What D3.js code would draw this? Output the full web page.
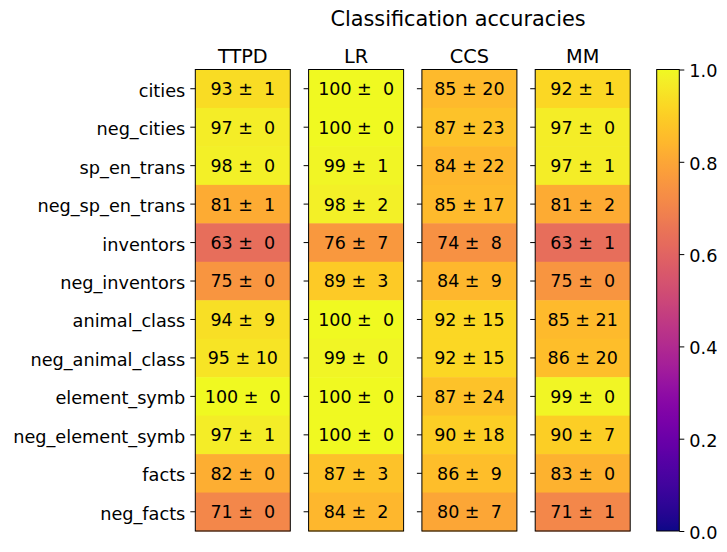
<!DOCTYPE html>
<html>
<head>
<meta charset="utf-8">
<script src="https://cdn.jsdelivr.net/npm/d3@7"></script>
<style>
  body { margin: 0; background: #fff; }
  text { font-family: "DejaVu Sans", sans-serif; }
</style>
</head>
<body>
<div id="chart"></div>
<script>
// Data (accuracy in %, mean and std).
const datasets = ["cities", "neg_cities", "sp_en_trans", "neg_sp_en_trans", "inventors",
    "neg_inventors", "animal_class", "neg_animal_class", "element_symb",
    "neg_element_symb", "facts", "neg_facts"];
const methods = ["TTPD", "LR", "CCS", "MM"];

const ttpdMean = [93, 97, 98, 81, 63, 75, 94, 95, 100, 97, 82, 71];
const ttpdStd  = [1, 0, 0, 1, 0, 0, 9, 10, 0, 1, 0, 0];
const lrMean   = [100, 100, 99, 98, 76, 89, 100, 99, 100, 100, 87, 84];
const lrStd    = [0, 0, 1, 2, 7, 3, 0, 0, 0, 0, 3, 2];
const ccsMean  = [85, 87, 84, 85, 74, 84, 92, 92, 87, 90, 86, 80];
const ccsStd   = [20, 23, 22, 17, 8, 9, 15, 15, 24, 18, 9, 7];
const mmMean   = [92, 97, 97, 81, 63, 75, 85, 86, 99, 90, 83, 71];
const mmStd    = [1, 0, 1, 2, 1, 0, 21, 20, 0, 7, 0, 1];

const colorbarTicks = [0, 0.2, 0.4, 0.6, 0.8, 1.0];

const means = [ttpdMean, lrMean, ccsMean, mmMean];
const stds = [ttpdStd, lrStd, ccsStd, mmStd];

const width = 727;
const height = 552;
const plotTop = 69.5, plotBottom = 531;
const panelW = 95, panelGap = 18.3, firstX = 195.3;

const svg = d3.select("#chart")
    .append("svg")
    .attr("width", width)
    .attr("height", height);

// Row scale shared by every panel.
const yScale = d3.scaleBand()
    .domain(datasets)
    .range([plotTop, plotBottom]);

// Panel positions.
const xPanel = d3.scalePoint()
    .domain(methods)
    .range([firstX, firstX + 3 * (panelW + panelGap)]);

const color = d3.scaleSequential(d3.interpolatePlasma).domain([0, 1]);

methods.forEach(function(m, j) {
    const x0 = xPanel(m);
    const g = svg.append("g");
    const cells = datasets.map((d, i) => ({ name: d, mean: means[j][i], std: stds[j][i] }));

    g.selectAll("rect.cell")
        .data(cells)
        .enter()
        .append("rect")
        .attr("class", "cell")
        .attr("x", x0)
        .attr("y", d => yScale(d.name))
        .attr("width", panelW)
        .attr("height", yScale.bandwidth() + 0.5)
        .attr("fill", d => color(d.mean / 100));

    g.selectAll("text.val")
        .data(cells)
        .enter()
        .append("text")
        .attr("class", "val")
        .attr("x", x0 + panelW / 2)
        .attr("y", d => yScale(d.name) + yScale.bandwidth() / 2)
        .attr("dy", "0.37em")
        .attr("text-anchor", "middle")
        .style("white-space", "pre")
        .style("font-size", "17.5px")
        .attr("fill", "#000")
        .text(d => String(d.mean).padStart(2, " ") + " \u00b1 " + String(d.std).padStart(2, " "));

    // Frame around the panel.
    g.append("rect")
        .attr("x", x0)
        .attr("y", plotTop)
        .attr("width", panelW)
        .attr("height", plotBottom - plotTop)
        .attr("fill", "none")
        .attr("stroke", "#000")
        .attr("stroke-width", 1);

    // Left axis ticks; labels only on the first panel.
    const axis = d3.axisLeft(yScale).tickSize(5).tickPadding(5);
    if (j > 0) axis.tickFormat("");
    const ax = g.append("g")
        .attr("transform", `translate(${x0}, 0)`)
        .call(axis);
    ax.select(".domain").remove();
    ax.selectAll("text")
        .attr("dy", "0.45em")
        .style("font-family", "DejaVu Sans, sans-serif")
        .style("font-size", "17.7px")
        .attr("fill", "#000");

    // Column title.
    g.append("text")
        .attr("x", x0 + panelW / 2)
        .attr("y", 63)
        .attr("text-anchor", "middle")
        .style("font-size", "19.3px")
        .text(m);
});

// Figure title.
svg.append("text")
    .attr("x", 458)
    .attr("y", 26)
    .attr("text-anchor", "middle")
    .style("font-size", "20.8px")
    .text("Classification accuracies");

// Colorbar.
const cbX = 656.7, cbW = 22.6;
const cbScale = d3.scaleLinear().domain([0, 1]).range([plotBottom, plotTop]);

const defs = svg.append("defs");
const grad = defs.append("linearGradient")
    .attr("id", "cbgrad")
    .attr("x1", "0").attr("y1", "1")
    .attr("x2", "0").attr("y2", "0");
grad.selectAll("stop")
    .data(d3.range(0, 1.0001, 0.02))
    .enter()
    .append("stop")
    .attr("offset", d => d)
    .attr("stop-color", d => color(d));

svg.append("rect")
    .attr("x", cbX)
    .attr("y", plotTop)
    .attr("width", cbW)
    .attr("height", plotBottom - plotTop)
    .attr("fill", "url(#cbgrad)")
    .attr("stroke", "#000")
    .attr("stroke-width", 1);

const cbAxis = svg.append("g")
    .attr("transform", `translate(${cbX + cbW}, 0)`)
    .call(d3.axisRight(cbScale).tickValues(colorbarTicks).tickFormat(d3.format(".1f")).tickSize(5).tickPadding(5));
cbAxis.select(".domain").remove();
cbAxis.selectAll("text")
    .attr("dy", "0.42em")
    .style("font-family", "DejaVu Sans, sans-serif")
    .style("font-size", "17.7px")
    .attr("fill", "#000");
</script>
</body>
</html>
